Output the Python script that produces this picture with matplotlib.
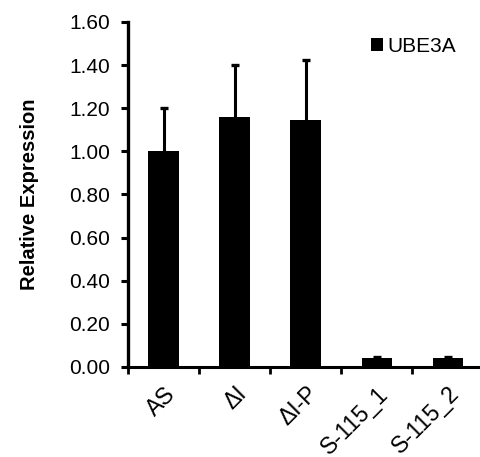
import numpy as np
import matplotlib.pyplot as plt

plt.rcParams['font.family'] = ['Liberation Sans', 'DejaVu Sans']

categories = ['AS', 'ΔI', 'ΔI-P', 'S-115_1', 'S-115_2']
values = [1.00, 1.16, 1.145, 0.04, 0.04]
errors = [0.20, 0.24, 0.28, 0.006, 0.004]
series_name = 'UBE3A'
yticks = [0.0, 0.2, 0.4, 0.6, 0.8, 1.0, 1.2, 1.4, 1.6]

fig = plt.figure(figsize=(4.8, 4.57), dpi=100)
ax = fig.add_axes([0.267, 0.197, 0.74, 0.755])

x = np.arange(len(categories))
vals = np.array(values)
errs = np.array(errors)
ax.bar(x, vals, width=0.43, color='black', label=series_name, zorder=2)
# upper error only, Excel style
ax.vlines(x, vals, vals + errs, colors='black', linewidth=2.2, zorder=1)
ax.plot(x, vals + errs, linestyle='none', marker='_', markersize=6,
        markeredgewidth=2.4, color='black', zorder=1)

ax.set_ylim(0, 1.6)
ax.set_yticks(yticks)
ax.set_yticklabels(['%.2f' % v for v in yticks], fontsize=15)
ax.set_xlim(-0.5, 4.5)
ax.set_xticks(x)
ax.set_xticklabels(categories, rotation=45, ha='right', rotation_mode='anchor', fontsize=16.5)
ax.tick_params(axis='x', which='major', length=0, pad=11)
ax.set_xticks(np.arange(-0.5, 4.0, 1.0), minor=True)
ax.tick_params(axis='x', which='minor', length=5, width=2)
ax.tick_params(axis='y', length=5, width=2.2, direction='out', pad=8)
for lbl in ax.get_xticklabels():
    lbl.set_x(lbl.get_position()[0])

for s in ['top', 'right']:
    ax.spines[s].set_visible(False)
ax.spines['left'].set_linewidth(2.4)
ax.spines['bottom'].set_linewidth(2.2)

ax.set_ylabel('Relative Expression', fontsize=14.5, fontweight='bold', labelpad=22)

ax.legend(loc='upper left', bbox_to_anchor=(0.66, 0.98), frameon=False,
          handlelength=0.6, handleheight=0.6, handletextpad=0.2, fontsize=15,
          borderaxespad=0)

fig.savefig('out.png', dpi=100)
